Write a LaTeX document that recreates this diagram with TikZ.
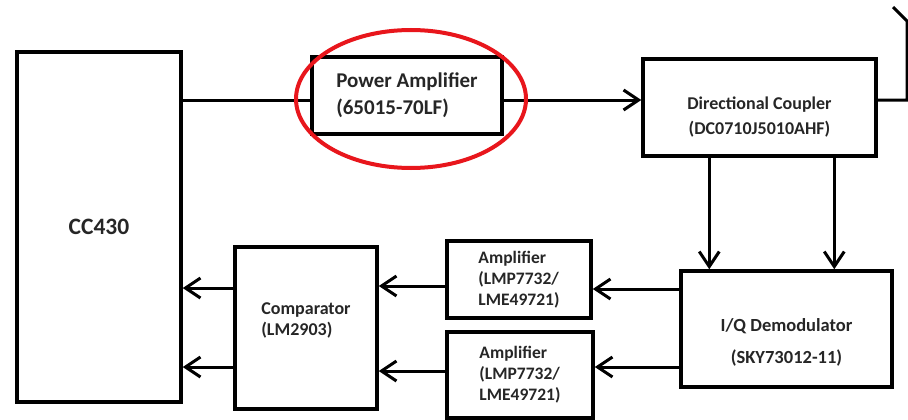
\documentclass[tikz,border=0pt]{standalone}
\usepackage{fontspec}
\setmainfont{Carlito}
\usetikzlibrary{positioning, arrows.meta, calc}
\definecolor{ringred}{RGB}{232,22,28}

\begin{document}
\begin{tikzpicture}[x=1pt, y=-1pt,
    blk/.style={draw, line width=3.5pt, inner sep=0pt, text=black!85,
        font=\bfseries\fontsize{17.5}{21}\selectfont},
    lbl/.style={text=black!85, font=\bfseries\fontsize{17.5}{21}\selectfont},
    link/.style={line width=3pt},
    arr/.style={link, -{Straight Barb[length=15pt, width=20pt]}}]
    \useasboundingbox (0,0) rectangle (908,420);
    % Blocks
    \node[blk, minimum width=164, minimum height=350,
        font=\bfseries\fontsize{23.5}{28}\selectfont] (cc) at (99,227) {CC430};
    \node[blk, minimum width=190, minimum height=77, align=left,
        font=\bfseries\fontsize{21}{27}\selectfont] (pa) at (407,95.5) {Power Amplifier\\(65015-70LF)};
    \node[blk, minimum width=233, minimum height=97,
        label={[lbl, align=center, yshift=-9.5pt, font=\bfseries\fontsize{18}{25}\selectfont]center:Directional Coupler\\(DC0710J5010AHF)}] (dc) at (759.5,107.5) {};
    \node[blk, minimum width=211, minimum height=116,
        label={[lbl, align=center, yshift=-13pt, font=\bfseries\fontsize{18.5}{32}\selectfont]center:I/Q Demodulator\\(SKY73012-11)}] (iq) at (786.5,329) {};
    \node[blk, minimum width=144, minimum height=77, align=left] (amp1) at (519,279.5) {Amplifier\\(LMP7732/\\LME49721)};
    \node[blk, minimum width=146, minimum height=86, align=left] (amp2) at (520,375) {Amplifier\\(LMP7732/\\LME49721)};
    \node[blk, minimum width=142, minimum height=162,
        label={[lbl, align=left, yshift=8pt, font=\bfseries\fontsize{18}{21}\selectfont]center:Comparator\\(LM2903)}] (cmp) at (306,328) {};
    % Port points
    \coordinate (pa in) at ([yshift=-4.5pt]pa.west);
    \coordinate (pa out) at ([yshift=-4.5pt]pa.east);
    \coordinate (dc o1) at ([xshift=68pt]dc.south west);
    \coordinate (dc o2) at ([xshift=193pt]dc.south west);
    \coordinate (iq o1) at ([yshift=40pt]iq.west);
    \coordinate (iq o2) at ([yshift=-38pt]iq.west);
    \coordinate (a1 o) at ([yshift=-6.5pt]amp1.west);
    \coordinate (a2 o) at ([yshift=4pt]amp2.west);
    \coordinate (cmp o1) at ([yshift=40pt]cmp.west);
    \coordinate (cmp o2) at ([yshift=-39pt]cmp.west);
    \coordinate (ant) at (907,21);
    % Signal path
    \draw[link] (pa in -| cc.east) -- (pa in);
    \draw[arr] (pa out) -- (pa out -| dc.west);
    \draw[link] ([yshift=7.5pt]dc.east) -| (ant) -- ++(-14,-14);
    \draw[arr] (dc o1) -- (dc o1 |- iq.north);
    \draw[arr] (dc o2) -- (dc o2 |- iq.north);
    \draw[arr] (iq o1) -- (iq o1 -| amp1.east);
    \draw[arr] (iq o2) -- (iq o2 -| amp2.east);
    \draw[arr] (a1 o) -- (a1 o -| cmp.east);
    \draw[arr] (a2 o) -- (a2 o -| cmp.east);
    \draw[arr] (cmp o1) -- (cmp o1 -| cc.east);
    \draw[arr] (cmp o2) -- (cmp o2 -| cc.east);
    % Highlight ring
    \draw[ringred, line width=4pt] (411,99) ellipse [x radius=115, y radius=69];
\end{tikzpicture}
\end{document}
